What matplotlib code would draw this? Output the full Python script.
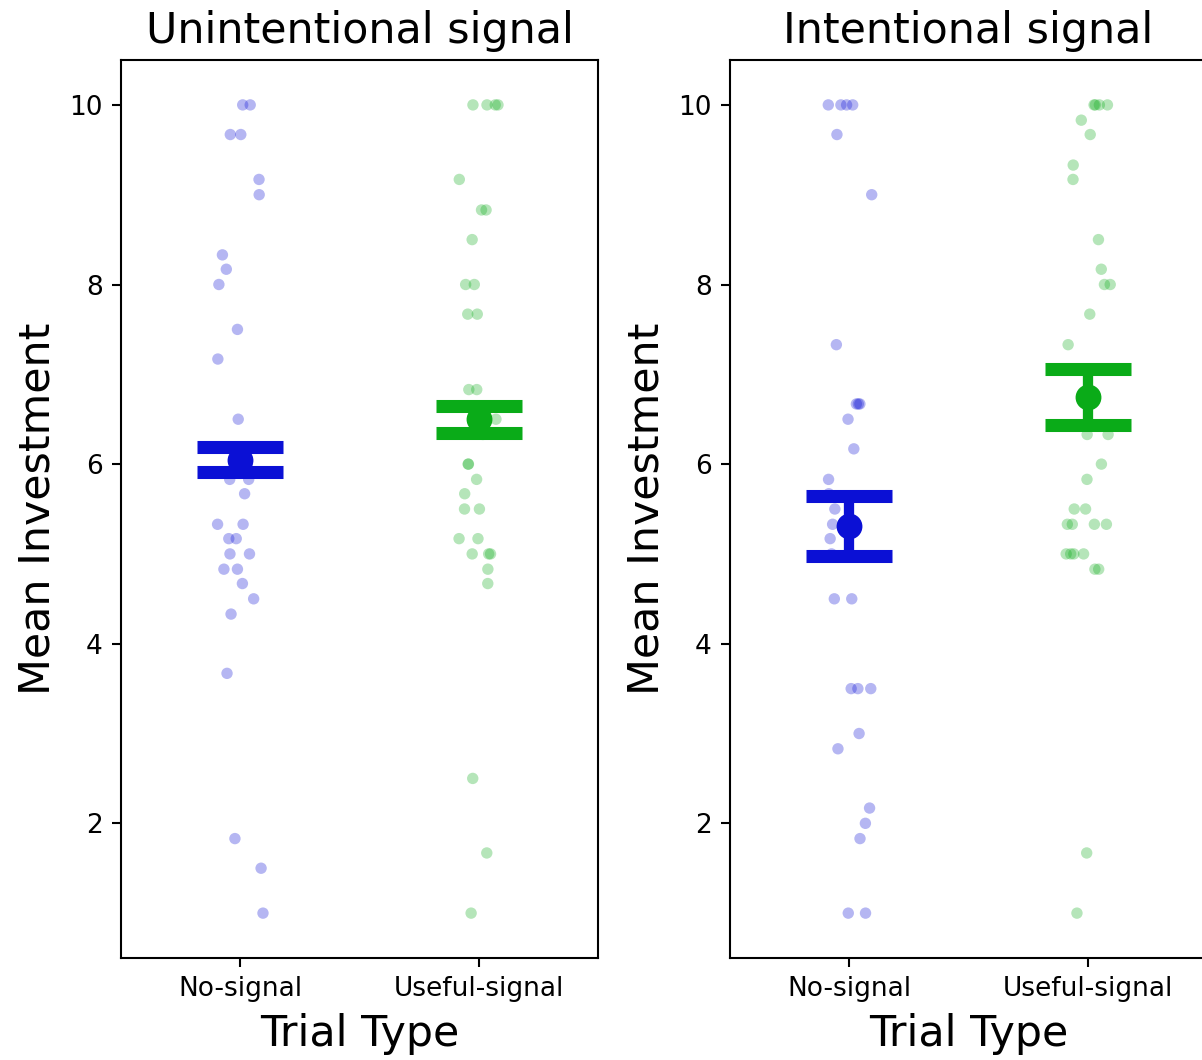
import matplotlib
matplotlib.use("Agg")
import matplotlib.pyplot as plt
import numpy as np
import pandas as pd
import seaborn as sns

# trial types on the x axis
trial_types = ['No-signal', 'Useful-signal']
panel_titles = ['Unintentional signal', 'Intentional signal']

# per-participant mean investment
unint_no = [10, 10, 9.67, 9.67, 9.17, 9, 8.33, 8.17, 8, 7.5, 7.17, 6.5, 6.0, 5.83, 5.83,
            5.67, 5.33, 5.33, 5.17, 5.17, 5, 5, 4.83, 4.83, 4.67, 4.5, 4.33, 3.67,
            1.83, 1.5, 1.0]
unint_useful = [10, 10, 10, 10, 9.17, 8.83, 8.83, 8.5, 8, 8, 7.67, 7.67, 6.83, 6.83,
                6.5, 6.33, 6, 6, 5.83, 5.67, 5.5, 5.5, 5.17, 5.17, 5, 5, 5, 4.83,
                4.67, 2.5, 1.67, 1.0]
int_no = [10, 10, 10, 10, 9.67, 9, 7.33, 6.67, 6.67, 6.67, 6.5, 6.17, 5.83, 5.67,
          5.5, 5.33, 5.17, 5.0, 4.5, 4.5, 3.5, 3.5, 3.5, 3.0, 2.83, 2.17, 2.0,
          1.83, 1.0, 1.0]
int_useful = [10, 10, 10, 10, 9.83, 9.67, 9.33, 9.17, 8.5, 8.17, 8, 8, 7.67, 7.33,
              6.33, 6.33, 6, 5.83, 5.5, 5.5, 5.33, 5.33, 5.33, 5.33, 5, 5, 5, 5,
              4.83, 4.83, 1.67, 1.0]

# condition means and error bar half-widths as shown
unint_means = [6.05, 6.50]
unint_err = [0.135, 0.15]
int_means = [5.31, 6.75]
int_err = [0.33, 0.31]

colors = ['#0b10d5', '#0aab18']

fig = plt.figure(figsize=(6.01, 5.30))
ax1 = fig.add_axes([0.1007, 0.0962, 0.3968, 0.8472])
ax2 = fig.add_axes([0.6073, 0.0962, 0.3968, 0.8472])

np.random.seed(3)
panels = [
    (ax1, unint_no, unint_useful, unint_means, unint_err),
    (ax2, int_no, int_useful, int_means, int_err),
]
for i, (ax, no, useful, means, err) in enumerate(panels):
    df = pd.DataFrame({
        'Trial Type': [trial_types[0]] * len(no) + [trial_types[1]] * len(useful),
        'Mean Investment': no + useful,
    })
    sns.stripplot(data=df, x='Trial Type', y='Mean Investment', hue='Trial Type',
                  order=trial_types, hue_order=trial_types, palette=colors,
                  alpha=0.3, size=4.1, jitter=0.1, linewidth=0, legend=False, ax=ax)
    for j in range(2):
        ax.errorbar(j, means[j], yerr=err[j], fmt='o', color=colors[j],
                    markersize=8.3, elinewidth=3.7, capsize=15.5, capthick=4.7,
                    zorder=5)
    ax.set_xlim(-0.5, 1.5)
    ax.set_ylim(0.5, 10.5)
    ax.set_yticks([2, 4, 6, 8, 10])
    ax.set_title(panel_titles[i], fontsize=15.4)
    ax.set_xlabel('Trial Type', fontsize=15.4)
    ax.set_ylabel('Mean Investment', fontsize=15.4)
    ax.tick_params(labelsize=9.5, length=3.3, width=0.75, pad=3.3)
    for sp in ax.spines.values():
        sp.set_linewidth(0.75)

fig.savefig('out.png', dpi=200)
